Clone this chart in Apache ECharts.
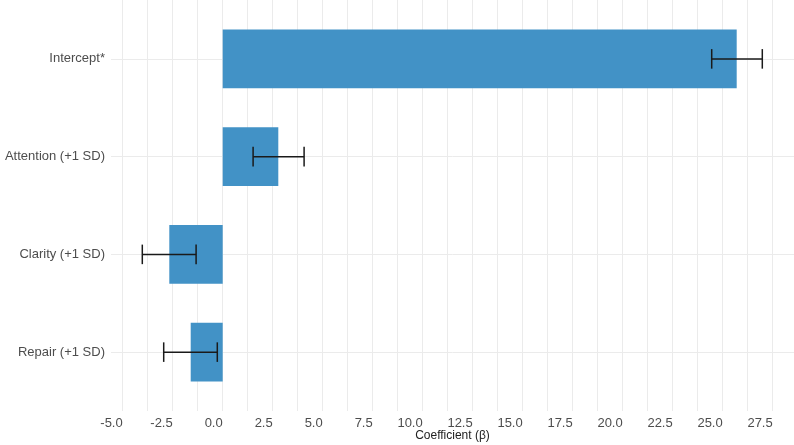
<!DOCTYPE html>
<html>
<head>
<meta charset="utf-8">
<script src="https://cdn.jsdelivr.net/npm/echarts@6/dist/echarts.min.js"></script>
<style>
  html, body { margin: 0; padding: 0; background: #fff; }
  #chart { width: 794px; height: 445px; }
</style>
</head>
<body>
<div id="chart"></div>
<script>
// coefficients
const terms     = ['Intercept*', 'Attention (+1 SD)', 'Clarity (+1 SD)', 'Repair (+1 SD)']
const estimates = [25.7, 2.78, -2.67, -1.6]
const ciLow     = [24.45, 1.52, -4.02, -2.95]
const ciHigh    = [26.98, 4.07, -1.33, -0.27]

const tickLabels = [-5, -2.5, 0, 2.5, 5, 7.5, 10, 12.5, 15, 17.5, 20, 22.5, 25, 27.5]
const gridTicks  = [-5, -3.75, -2.5, -1.25, 0, 1.25, 2.5, 3.75, 5, 6.25, 7.5, 8.75, 10, 11.25,
                    12.5, 13.75, 15, 16.25, 17.5, 18.75, 20, 21.25, 22.5, 23.75, 25, 26.25, 27.5]

const xMin = -5.585
const xMax = 28.565
const font = '"Liberation Sans", Arial, sans-serif'
const gridColor = '#ebebeb'
const barColor = '#4292c6'
const errColor = '#1a1a1a'

const chart = echarts.init(document.getElementById('chart'))

chart.setOption({
	animation: false,
	textStyle: { fontFamily: font },
	grid: [
		// full panel: vertical grid lines + x labels
		{ left: 111, right: 0, top: 0, bottom: 34, containLabel: false, outerBoundsMode: 'none' },
		// bars
		{ left: 111, right: 0, top: 10, bottom: 44, containLabel: false, outerBoundsMode: 'none' }
	],
	xAxis: [{
		gridIndex: 0,
		type: 'value',
		min: xMin,
		max: xMax,
		name: 'Coefficient (β)',
		nameLocation: 'middle',
		nameGap: 19,
		nameMoveOverlap: false,
		nameTextStyle: { fontSize: 12, color: '#222', fontFamily: font },
		axisLine: { show: false },
		axisTick: { show: false, customValues: gridTicks },
		axisLabel: {
			customValues: tickLabels,
			formatter: v => v.toFixed(1),
			align: 'right',
			fontSize: 13,
			color: '#4d4d4d',
			margin: 6,
			fontFamily: font
		},
		splitLine: { show: true, lineStyle: { color: gridColor, width: 1 } }
	}, {
		gridIndex: 1,
		type: 'value',
		min: xMin,
		max: xMax,
		show: false,
		splitLine: { show: false }
	}],
	yAxis: [{
		gridIndex: 0,
		type: 'value',
		show: false,
		splitLine: { show: false }
	}, {
		gridIndex: 1,
		type: 'category',
		inverse: true,
		data: terms,
		axisLine: { show: false },
		axisTick: { show: false },
		splitLine: { show: false },
		axisLabel: { fontSize: 13, color: '#4d4d4d', margin: 6, fontFamily: font }
	}],
	series: [{
		type: 'bar',
		xAxisIndex: 1,
		yAxisIndex: 1,
		data: estimates,
		barWidth: '60%',
		itemStyle: { color: barColor },
		z: 2,
		markLine: {
			silent: true,
			symbol: 'none',
			z: 1,
			label: { show: false },
			lineStyle: { color: gridColor, type: 'solid', width: 1 },
			data: terms.map(t => ({ yAxis: t }))
		}
	}, {
		type: 'custom',
		xAxisIndex: 1,
		yAxisIndex: 1,
		z: 3,
		data: terms.map((t, i) => [ciLow[i], ciHigh[i], i]),
		encode: { x: [0, 1], y: 2 },
		renderItem: (params, api) => {
			const yi = api.value(2)
			const lo = api.coord([api.value(0), yi])
			const hi = api.coord([api.value(1), yi])
			const h = api.size([0, 1])[1] * 0.2 / 2
			const style = { stroke: errColor, lineWidth: 1.5 }
			return {
				type: 'group',
				children: [
					{ type: 'line', shape: { x1: lo[0], y1: lo[1], x2: hi[0], y2: hi[1] }, style },
					{ type: 'line', shape: { x1: lo[0], y1: lo[1] - h, x2: lo[0], y2: lo[1] + h }, style },
					{ type: 'line', shape: { x1: hi[0], y1: hi[1] - h, x2: hi[0], y2: hi[1] + h }, style }
				]
			}
		}
	}]
})
</script>
</body>
</html>
